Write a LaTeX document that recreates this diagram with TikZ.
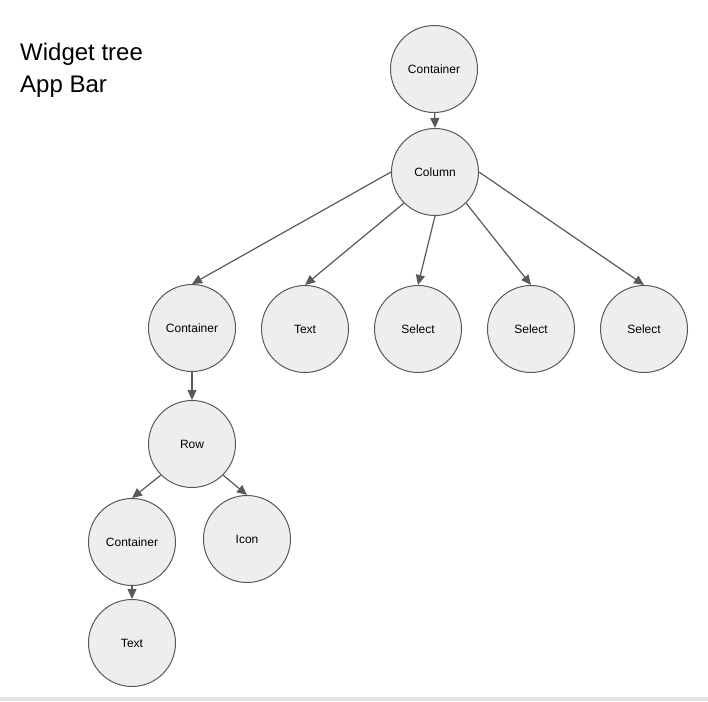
\documentclass[tikz,border=0pt]{standalone}
\usepackage{fontspec}
\setmainfont{Liberation Sans}
\usetikzlibrary{arrows.meta}
\definecolor{wline}{HTML}{595959}
\definecolor{wfill}{HTML}{EEEEEE}
\begin{document}
\begin{tikzpicture}[x=1pt, y=-1pt,
  wnode/.style={circle, draw=wline, line width=1pt, fill=wfill, minimum size=87pt, inner sep=0pt, font=\fontsize{12}{14}\selectfont},
  wedge/.style={draw=wline, line width=1.2pt, -{Triangle[length=10pt, width=9pt]}}]
\useasboundingbox (0,0) rectangle (708,701);
\fill[gray!22] (0,697) rectangle (708,701);
\node[anchor=north west, inner sep=0pt, align=left, font=\fontsize{24}{32}\selectfont] (title) at (20,42.5) {Widget tree\\App Bar};
\node[wnode] (wid0) at (434,69){Container};
\node[wnode] (wid1) at (435,172){Column};
\draw[wedge](wid0) -- (wid1.north);
\node[wnode] (wid2) at (192,328){Container};
\node[wnode] (wid3) at (305,329){Text};
\node[wnode] (wid4) at (418,329){Select};
\node[wnode] (wid5) at (531,329){Select};
\node[wnode] (wid6) at (644,329){Select};
\draw[wedge](wid1.west) -- (wid2.north);
\draw[wedge](wid1.south west) -- (wid3.north);
\draw[wedge](wid1.south) -- (wid4.north);
\draw[wedge](wid1.south east) -- (wid5.north);
\draw[wedge](wid1.east) -- (wid6.north);
\node[wnode] (wid7) at (192,444){Row};
\draw[wedge](wid2) -- (wid7.north);
\node[wnode] (wid8) at (132,542){Container};
\node[wnode] (wid9) at (247,539){Icon};
\draw[wedge](wid7.south west) -- (wid8.north);
\draw[wedge](wid7.south east) -- (wid9.north);
\node[wnode] (wid10) at (132,643){Text};
\draw[wedge](wid8) -- (wid10.north);
\end{tikzpicture}
\end{document}
